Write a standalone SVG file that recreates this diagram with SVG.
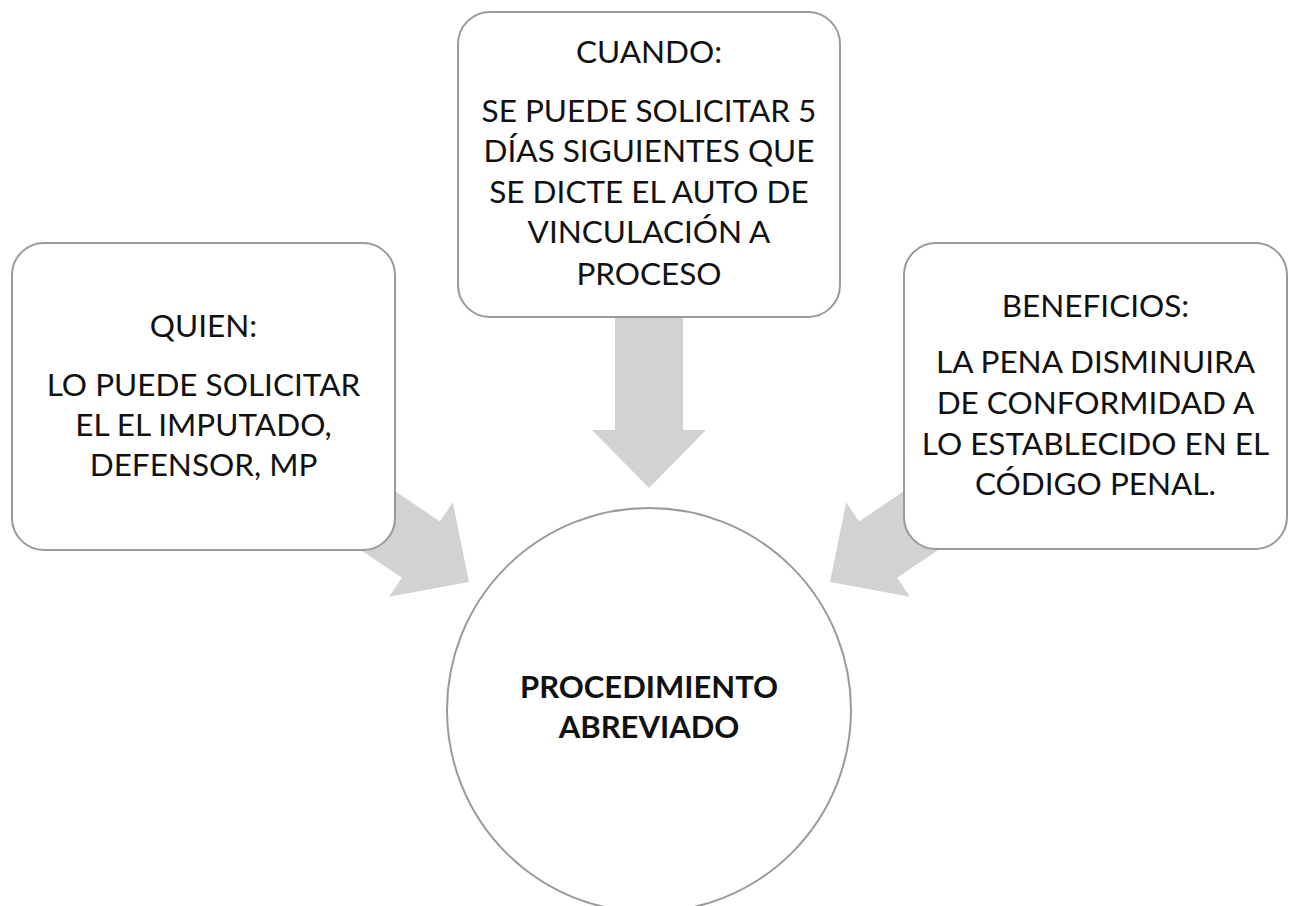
<svg xmlns="http://www.w3.org/2000/svg" width="1294" height="906" viewBox="0 0 1294 906">
  <defs>
    <style>
      .box { fill: #ffffff; stroke: #9a9a9a; stroke-width: 2; }
      .arrow { fill: #d2d2d2; stroke: none; }
      .t { font-family: Lato, "Liberation Sans", sans-serif; font-size: 31.5px; fill: #111111; text-anchor: middle; }
      .tb { font-family: Lato, "Liberation Sans", sans-serif; font-size: 31px; font-weight: bold; fill: #111111; text-anchor: middle; }
    </style>
    <path id="arr" d="M -200 -34 L -58 -34 L -58 -57 L 0 0 L -58 57 L -58 34 L -200 34 Z"/>
  </defs>
  <rect width="1294" height="906" fill="#ffffff"/>

  <g id="connectors">
    <use href="#arr" class="arrow" transform="translate(649,488) rotate(90)"/>
    <use href="#arr" class="arrow" transform="translate(469,582) rotate(34)"/>
    <use href="#arr" class="arrow" transform="translate(830,582) rotate(146)"/>
  </g>

  <g id="node-quien">
    <rect class="box" x="12" y="243" width="383" height="307" rx="32" ry="32"/>
    <text class="t" x="203.5" y="337">QUIEN:</text>
    <text class="t" x="203.5" y="396">LO PUEDE SOLICITAR</text>
    <text class="t" x="203.5" y="436">EL EL IMPUTADO,</text>
    <text class="t" x="203.5" y="476">DEFENSOR, MP</text>
  </g>

  <g id="node-cuando">
    <rect class="box" x="458" y="12" width="382" height="305" rx="32" ry="32"/>
    <text class="t" x="649" y="63">CUANDO:</text>
    <text class="t" x="649" y="122">SE PUEDE SOLICITAR 5</text>
    <text class="t" x="649" y="162">DÍAS SIGUIENTES QUE</text>
    <text class="t" x="649" y="203">SE DICTE EL AUTO DE</text>
    <text class="t" x="649" y="243">VINCULACIÓN A</text>
    <text class="t" x="649" y="285">PROCESO</text>
  </g>

  <g id="node-beneficios">
    <rect class="box" x="904" y="243" width="383" height="306" rx="32" ry="32"/>
    <text class="t" x="1095.5" y="317">BENEFICIOS:</text>
    <text class="t" x="1095.5" y="373">LA PENA DISMINUIRA</text>
    <text class="t" x="1095.5" y="414">DE CONFORMIDAD A</text>
    <text class="t" x="1095.5" y="455">LO ESTABLECIDO EN EL</text>
    <text class="t" x="1095.5" y="495">CÓDIGO PENAL.</text>
  </g>

  <g id="node-procedimiento">
    <circle class="box" cx="649" cy="710" r="202"/>
    <text class="tb" x="649" y="698">PROCEDIMIENTO</text>
    <text class="tb" x="649" y="738">ABREVIADO</text>
  </g>
</svg>
